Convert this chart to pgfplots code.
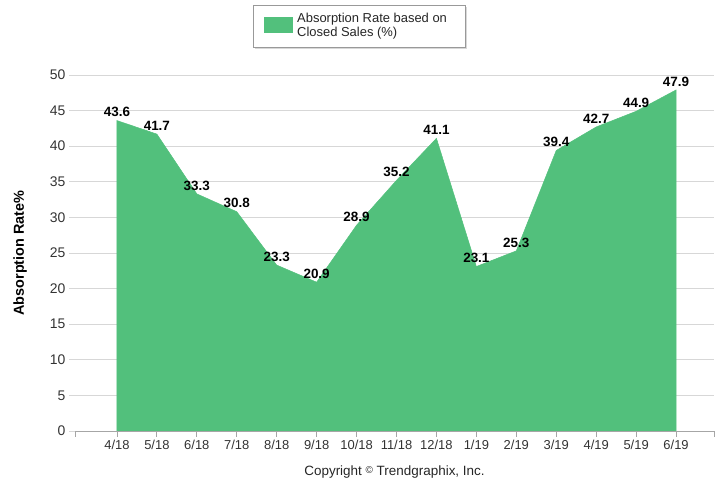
\documentclass[border=0pt]{standalone}
\usepackage{pgfplots}
\pgfplotsset{compat=1.18}
\usepackage{fontspec}
\setmainfont{Liberation Sans}
\usetikzlibrary{shadows}
\definecolor{areagreen}{RGB}{82,192,124}
\definecolor{gridgray}{RGB}{215,215,215}
\begin{document}
\begin{tikzpicture}[x=1bp,y=1bp]
\useasboundingbox (0,0) rectangle (722,485);
\begin{axis}[
  at={(75bp,54bp)}, anchor=south west,
  width=639bp, height=356bp, scale only axis,
  xmin=-1.05, xmax=14.95, ymin=0, ymax=50,
  axis x line*=bottom, axis y line*=left,
  x axis line style={gray!70, line width=0.8pt},
  y axis line style={draw=none},
  xtick={0,...,14},
  xticklabels={4/18,5/18,6/18,7/18,8/18,9/18,10/18,11/18,12/18,1/19,2/19,3/19,4/19,5/19,6/19},
  extra x ticks={-1.05,14.95}, extra x tick labels={},
  extra x tick style={grid=none},
  ytick={0,5,...,50},
  /pgf/number format/assume math mode=true,
  ymajorgrids, grid style={gridgray, line width=0.8pt},
  tick align=outside,
  major tick length=6bp,
  x tick style={gray!70, line width=0.8pt},
  y tick style={gridgray, line width=0.8pt},
  xticklabel style={font=\fontsize{13}{15}\selectfont, text=black!80},
  yticklabel style={font=\fontsize{14}{16}\selectfont, text=black!80},
  ylabel={\textbf{Absorption Rate\%}},
  ylabel style={at={(axis description cs:-0.086,0.5)}, anchor=center, font=\fontsize{14.5}{16}\selectfont},
  xlabel={Copyright {\fontsize{10}{10}\selectfont\raisebox{2bp}{\textcopyright}} Trendgraphix, Inc.},
  xlabel style={at={(axis description cs:0.5,-0.115)}, anchor=center, font=\fontsize{13.5}{15}\selectfont, text=black!85},
  nodes near coords,
  nodes near coords style={font=\bfseries\fontsize{13.5}{15}\selectfont, anchor=south, yshift=0bp, text=black},
  point meta=explicit symbolic,
]
\addplot[fill=areagreen, draw=areagreen, line width=0.5pt] coordinates {
(0,0)[]
(0,43.6)[43.6] (1,41.7)[41.7] (2,33.3)[33.3] (3,30.8)[30.8] (4,23.3)[23.3]
(5,20.9)[20.9] (6,28.9)[28.9] (7,35.2)[35.2] (8,41.1)[41.1] (9,23.1)[23.1]
(10,25.3)[25.3] (11,39.4)[39.4] (12,42.7)[42.7] (13,44.9)[44.9] (14,47.9)[47.9]
(14,0)[]
} \closedcycle;
\end{axis}
% legend
\node[draw=gray!80, line width=0.8pt, fill=white,
  drop shadow={shadow xshift=2bp, shadow yshift=-2bp, fill=gray!60},
  minimum width=212bp, minimum height=42bp, inner sep=0pt, anchor=north west] at (253,480) {};
\fill[areagreen] (264,468) rectangle (293,452);
\node[anchor=west, align=left, inner sep=0pt, text=black!85,
  font=\fontsize{13}{14}\selectfont] at (297,459) {Absorption Rate based on\\Closed Sales (\%)};
\end{tikzpicture}
\end{document}
